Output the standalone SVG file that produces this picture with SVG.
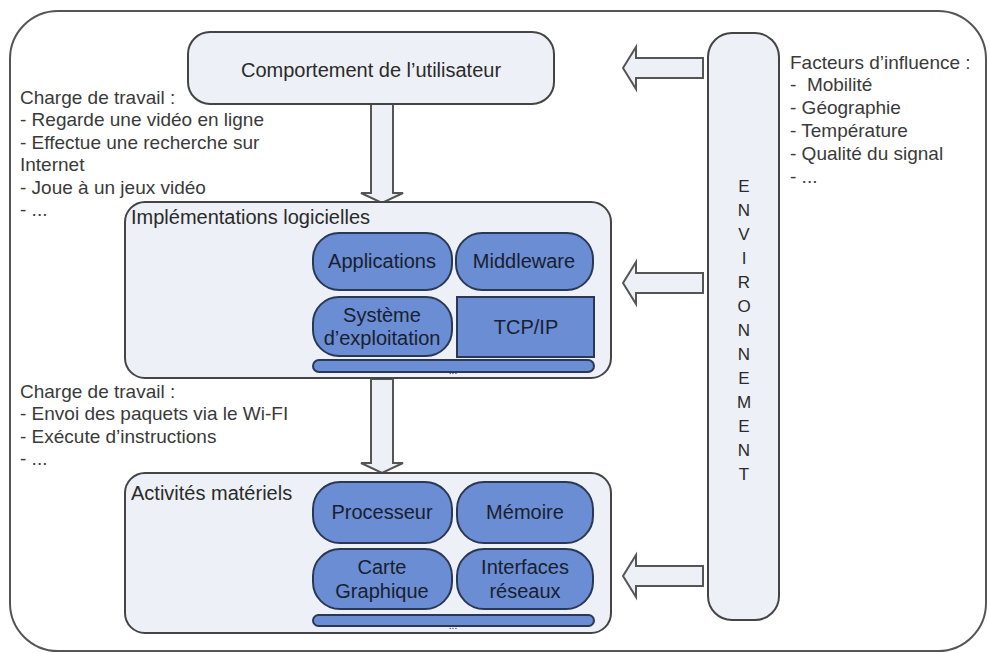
<svg xmlns="http://www.w3.org/2000/svg" width="989" height="653" viewBox="0 0 989 653">
<defs>
<style>
.frame{fill:#ffffff;stroke:#555;stroke-width:2}
.cont{fill:#edf0f6;stroke:#444;stroke-width:2}
.blue{fill:#6a8dd3;stroke:#2a3856;stroke-width:2}
.arr{fill:#edf0f6;stroke:#555;stroke-width:2;stroke-linejoin:miter}
.t{font-family:"Liberation Sans",Arial,sans-serif;fill:#3a3a3a;font-size:19px}
.lbl{font-family:"Liberation Sans",Arial,sans-serif;fill:#2a2a2a;font-size:20px}
.in{font-family:"Liberation Sans",Arial,sans-serif;fill:#19202f;font-size:20px;text-anchor:middle}
.env{font-family:"Liberation Sans",Arial,sans-serif;fill:#2a2a2a;font-size:17px;text-anchor:middle}
</style>
</defs>
<rect class="frame" x="10" y="11" width="976" height="640" rx="48" ry="48"/>

<g id="connectors">
<polygon class="arr" points="371,104 393,104 393,193 403,193 382,203 361,193 371,193"/>
<polygon class="arr" points="371,379 393,379 393,463 403,463 382,473 361,463 371,463"/>
<polygon class="arr" points="703,58 703,78 636,78 636,89 623,68 636,47 636,58"/>
<polygon class="arr" points="703,273 703,293 636,293 636,304 623,283 636,262 636,273"/>
<polygon class="arr" points="703,566 703,586 636,586 636,597 623,576 636,555 636,566"/>
</g>

<g id="user">
<rect class="cont" x="188" y="32" width="366" height="72" rx="22"/>
<text class="lbl" x="371" y="77" text-anchor="middle">Comportement de l’utilisateur</text>
</g>

<g id="soft">
<rect class="cont" x="125" y="202" width="486" height="176" rx="20"/>
<text class="lbl" x="131" y="224">Implémentations logicielles</text>
</g>
<g id="apps"><rect class="blue" x="313" y="233" width="139" height="57" rx="26"/><text class="in" x="382" y="268">Applications</text></g>
<g id="middleware"><rect class="blue" x="456" y="233" width="137" height="57" rx="26"/><text class="in" x="524" y="268">Middleware</text></g>
<g id="os"><rect class="blue" x="313" y="297" width="139" height="59" rx="26"/><text class="in" x="382" y="322">Système</text><text class="in" x="382" y="345">d’exploitation</text></g>
<g id="tcpip"><rect class="blue" x="457" y="297" width="137" height="60"/><text class="in" x="526" y="334">TCP/IP</text></g>
<g id="soft-etc"><rect class="blue" x="313" y="360" width="281" height="12" rx="6"/><text class="in" x="453" y="374" style="font-size:10px">...</text></g>

<g id="hw">
<rect class="cont" x="125" y="473" width="486" height="160" rx="20"/>
<text class="lbl" x="131" y="500">Activités matériels</text>
</g>
<g id="cpu"><rect class="blue" x="313" y="482" width="139" height="61" rx="27"/><text class="in" x="382" y="519">Processeur</text></g>
<g id="mem"><rect class="blue" x="457" y="482" width="136" height="61" rx="27"/><text class="in" x="525" y="519">Mémoire</text></g>
<g id="gpu"><rect class="blue" x="313" y="549" width="139" height="60" rx="27"/><text class="in" x="382" y="574">Carte</text><text class="in" x="382" y="598">Graphique</text></g>
<g id="nic"><rect class="blue" x="457" y="549" width="136" height="60" rx="27"/><text class="in" x="525" y="574">Interfaces</text><text class="in" x="525" y="598">réseaux</text></g>
<g id="hw-etc"><rect class="blue" x="313" y="615" width="281" height="11" rx="5.5"/><text class="in" x="453" y="629" style="font-size:10px">...</text></g>

<g id="env">
<rect class="cont" x="708" y="33" width="71" height="587" rx="24"/>
<text class="env" x="744" y="192">E</text>
<text class="env" x="744" y="216">N</text>
<text class="env" x="744" y="240">V</text>
<text class="env" x="744" y="264">I</text>
<text class="env" x="744" y="288">R</text>
<text class="env" x="744" y="312">O</text>
<text class="env" x="744" y="336">N</text>
<text class="env" x="744" y="360">N</text>
<text class="env" x="744" y="384">E</text>
<text class="env" x="744" y="408">M</text>
<text class="env" x="744" y="432">E</text>
<text class="env" x="744" y="456">N</text>
<text class="env" x="744" y="480">T</text>
</g>

<g id="workload1">
<text class="t" x="20" y="104">Charge de travail :</text>
<text class="t" x="20" y="126">- Regarde une vidéo en ligne</text>
<text class="t" x="20" y="149">- Effectue une recherche sur</text>
<text class="t" x="20" y="171">Internet</text>
<text class="t" x="20" y="194">- Joue à un jeux vidéo</text>
<text class="t" x="20" y="216">- ...</text>
</g>

<g id="workload2">
<text class="t" x="20" y="398">Charge de travail :</text>
<text class="t" x="20" y="420">- Envoi des paquets via le Wi-FI</text>
<text class="t" x="20" y="443">- Exécute d’instructions</text>
<text class="t" x="20" y="465">- ...</text>
</g>

<g id="factors">
<text class="t" x="790" y="69">Facteurs d’influence :</text>
<text class="t" x="790" y="91" xml:space="preserve">-  Mobilité</text>
<text class="t" x="790" y="114">- Géographie</text>
<text class="t" x="790" y="137">- Température</text>
<text class="t" x="790" y="160">- Qualité du signal</text>
<text class="t" x="790" y="183">- ...</text>
</g>
</svg>
